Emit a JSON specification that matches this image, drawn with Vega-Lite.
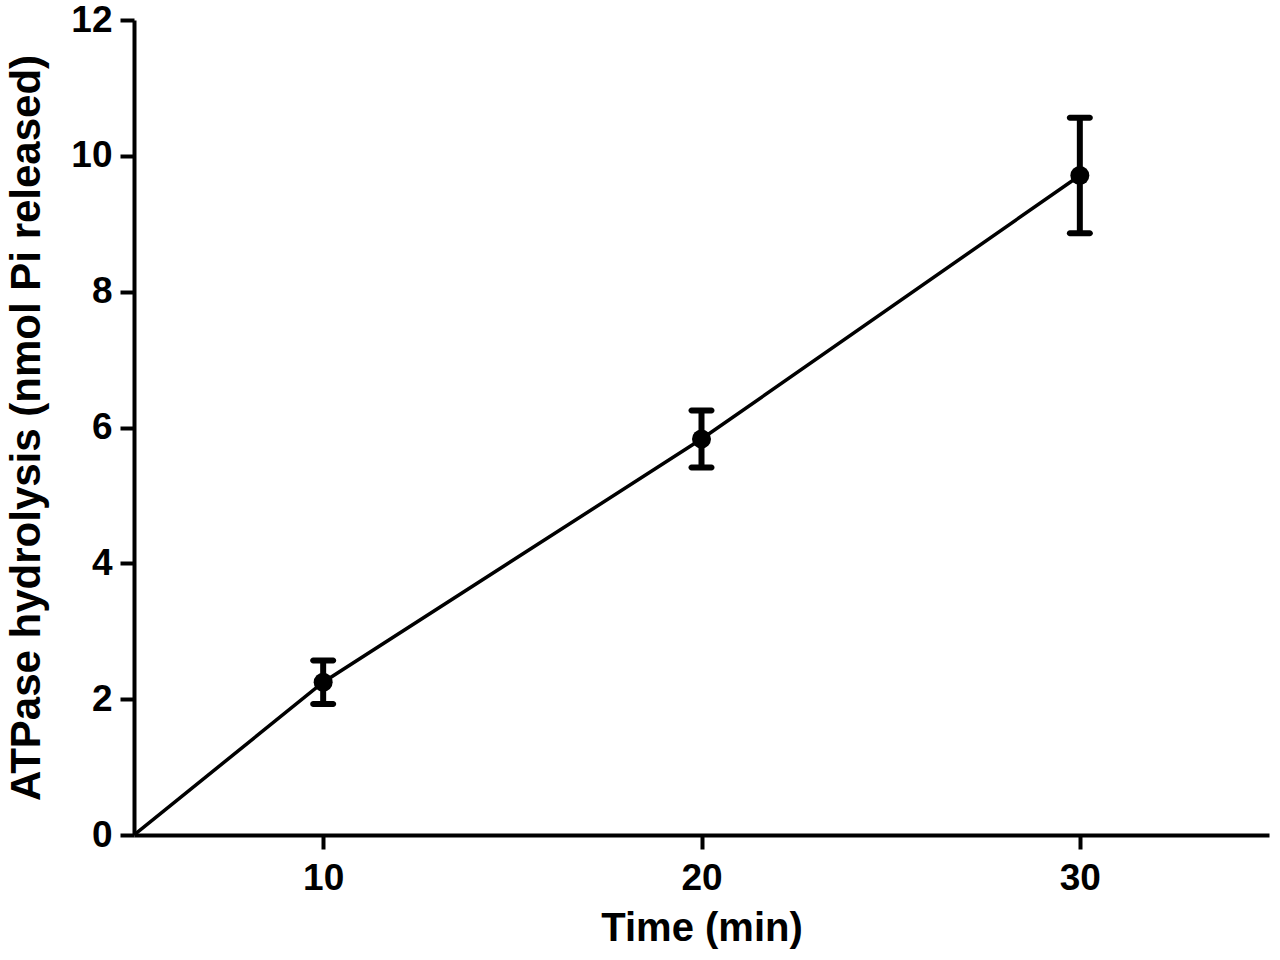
{
  "$schema": "https://vega.github.io/schema/vega-lite/v6.json",
  "width": 1135,
  "height": 815,
  "autosize": {"type": "none"},
  "padding": {"left": 134, "top": 20, "right": 11, "bottom": 125},
  "background": "white",
  "config": {
    "view": {"stroke": null},
    "font": "Liberation Sans",
    "axis": {
      "grid": false,
      "domainColor": "black",
      "domainWidth": 4,
      "tickColor": "black",
      "tickWidth": 4,
      "tickSize": 14,
      "labelFont": "Liberation Sans",
      "labelFontWeight": "bold",
      "labelFontSize": 37,
      "labelColor": "black",
      "titleFont": "Liberation Sans",
      "titleFontWeight": "bold",
      "titleFontSize": 40,
      "titleColor": "black"
    }
  },
  "datasets": {
    "fit": [
      {"time": 5, "value": 0},
      {"time": 10, "value": 2.25},
      {"time": 20, "value": 5.83},
      {"time": 30, "value": 9.71}
    ],
    "obs": [
      {"time": 10, "mean": 2.25, "lo": 1.93, "hi": 2.57},
      {"time": 20, "mean": 5.83, "lo": 5.41, "hi": 6.25},
      {"time": 30, "mean": 9.71, "lo": 8.86, "hi": 10.56}
    ]
  },
  "layer": [
    {
      "data": {"name": "fit"},
      "mark": {"type": "line", "color": "black", "strokeWidth": 3.5, "clip": true},
      "encoding": {
        "x": {
          "field": "time", "type": "quantitative",
          "scale": {"domain": [5, 35], "nice": false, "zero": false},
          "axis": {"values": [10, 20, 30], "format": "d", "title": "Time (min)", "labelPadding": 11, "titlePadding": 12, "labelFlush": false}
        },
        "y": {
          "field": "value", "type": "quantitative",
          "scale": {"domain": [0, 12], "nice": false},
          "axis": {"values": [0, 2, 4, 6, 8, 10, 12], "format": "d", "title": "ATPase hydrolysis (nmol Pi released)", "titleFontSize": 42, "labelPadding": 8, "titlePadding": 22, "labelFlush": false}
        }
      }
    },
    {
      "data": {"name": "obs"},
      "mark": {"type": "rule", "color": "black", "strokeWidth": 6},
      "encoding": {
        "x": {"field": "time", "type": "quantitative"},
        "y": {"field": "lo", "type": "quantitative"},
        "y2": {"field": "hi"}
      }
    },
    {
      "data": {"name": "obs"},
      "mark": {"type": "tick", "orient": "horizontal", "color": "black", "size": 26, "thickness": 6, "cornerRadius": 3, "opacity": 1},
      "encoding": {
        "x": {"field": "time", "type": "quantitative"},
        "y": {"field": "lo", "type": "quantitative"}
      }
    },
    {
      "data": {"name": "obs"},
      "mark": {"type": "tick", "orient": "horizontal", "color": "black", "size": 26, "thickness": 6, "cornerRadius": 3, "opacity": 1},
      "encoding": {
        "x": {"field": "time", "type": "quantitative"},
        "y": {"field": "hi", "type": "quantitative"}
      }
    },
    {
      "data": {"name": "obs"},
      "mark": {"type": "point", "filled": true, "shape": "circle", "color": "black", "size": 360, "opacity": 1},
      "encoding": {
        "x": {"field": "time", "type": "quantitative"},
        "y": {"field": "mean", "type": "quantitative"}
      }
    }
  ]
}
